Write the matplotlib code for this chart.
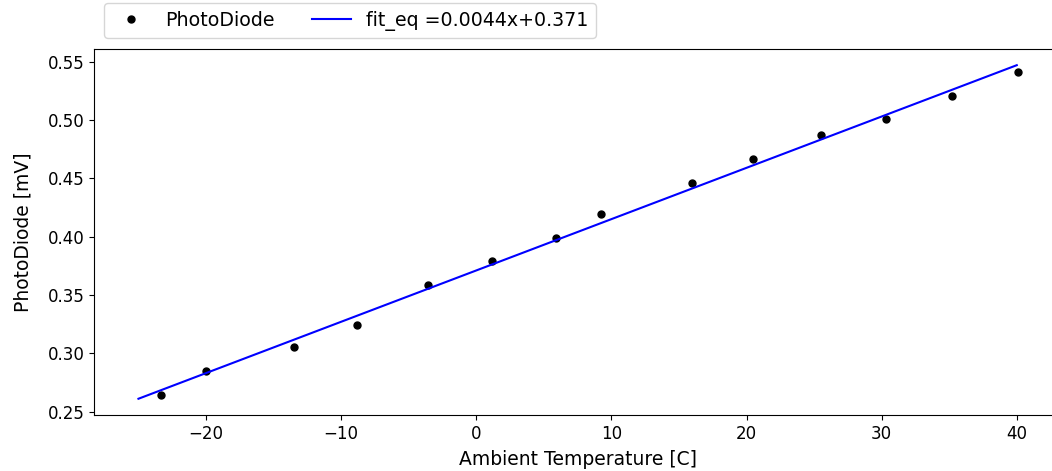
import numpy as np
import matplotlib
matplotlib.use("Agg")
import matplotlib.pyplot as plt

# measured ambient temperature [C] and photodiode reading [mV]
temp = [-23.3, -20.0, -13.5, -8.8, -3.6, 1.2, 5.9, 9.2, 16.0, 20.5, 25.5, 30.3, 35.2, 40.1]
photo = [0.264, 0.2846, 0.305, 0.3243, 0.3589, 0.3788, 0.3991, 0.4197, 0.4463, 0.4669, 0.4874, 0.5011, 0.5209, 0.5414]

# fit line
slope = 0.0044
intercept = 0.371
fit_x = [-25, 40]

plt.rcParams['font.size'] = 12

fig = plt.figure(figsize=(10.52, 4.71), dpi=100)
ax = fig.add_axes([0.0898, 0.118, 0.9198, 0.779])

ax.plot(temp, photo, 'o', color='black', markersize=5, label='PhotoDiode')
fx = np.array(fit_x)
ax.plot(fx, slope * fx + intercept, color='blue', label='fit_eq =%.4fx+%.3f' % (slope, intercept))

ax.set_xlabel('Ambient Temperature [C]', fontsize=13.5, labelpad=5)
ax.set_ylabel('PhotoDiode [mV]', fontsize=13.5, labelpad=11)
ax.set_xticks([-20, -10, 0, 10, 20, 30, 40])
ax.set_yticks([0.25, 0.30, 0.35, 0.40, 0.45, 0.50, 0.55])

fig.legend(loc='upper left', bbox_to_anchor=(104 / 1052, 1 - 3 / 471), ncol=2,
           borderaxespad=0, fontsize=13.7)

fig.savefig('out.png', dpi=100)
